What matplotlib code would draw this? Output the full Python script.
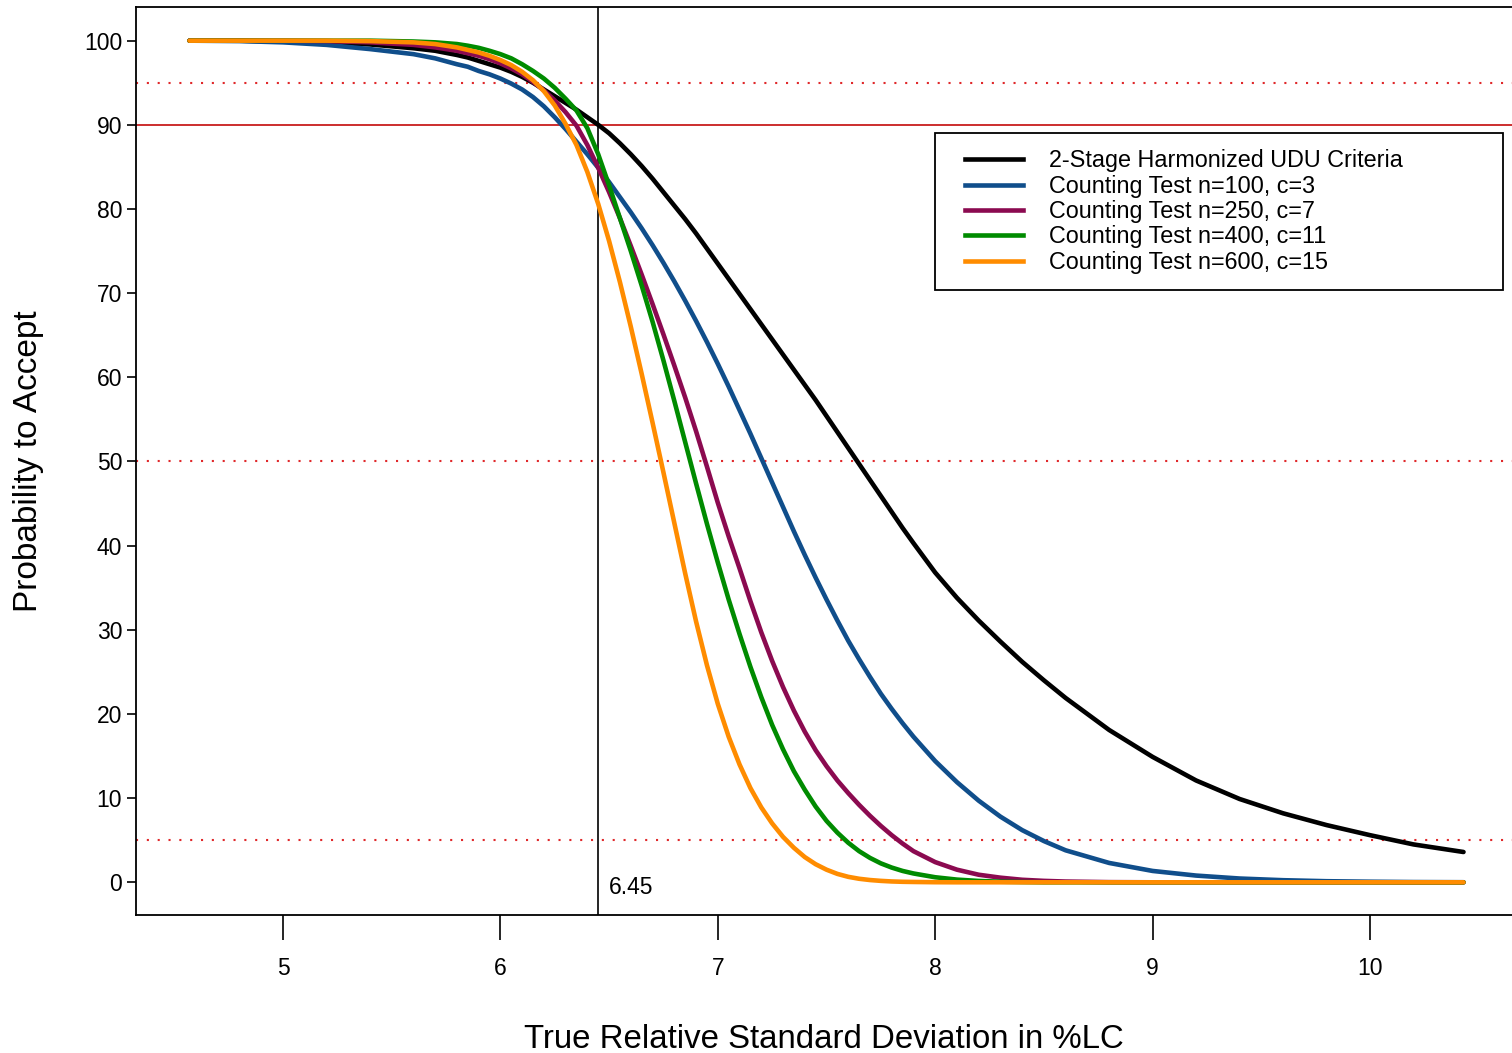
import matplotlib
matplotlib.use("Agg")
import matplotlib.pyplot as plt
from matplotlib.lines import Line2D
from matplotlib.legend_handler import HandlerBase

plt.rcParams['font.family'] = ['Liberation Sans', 'DejaVu Sans']

# ---- data ----
rsd = [4.57, 4.8, 5.0, 5.2, 5.4, 5.6, 5.7, 5.8, 5.85, 5.9, 5.95, 6.0, 6.05, 6.1, 6.15,
       6.2, 6.25, 6.3, 6.35, 6.4, 6.45, 6.5, 6.55, 6.6, 6.65, 6.7, 6.75, 6.8, 6.85,
       6.9, 6.95, 7.0, 7.05, 7.1, 7.15, 7.2, 7.25, 7.3, 7.35, 7.4, 7.45, 7.5, 7.55,
       7.6, 7.65, 7.7, 7.75, 7.8, 7.85, 7.9, 8.0, 8.1, 8.2, 8.3, 8.4, 8.5, 8.6, 8.8,
       9.0, 9.2, 9.4, 9.6, 9.8, 10.0, 10.2, 10.43]

udu_2stage = [100, 100, 99.9, 99.8, 99.55, 99.1, 98.8, 98.3, 98.0, 97.6, 97.2, 96.8,
              96.3, 95.7, 95.0, 94.2, 93.4, 92.6, 91.8, 90.9, 90.0, 89.0, 87.8, 86.5,
              85.1, 83.6, 82.0, 80.4, 78.8, 77.1, 75.3, 73.5, 71.7, 69.9, 68.1, 66.3,
              64.5, 62.7, 60.9, 59.1, 57.3, 55.4, 53.5, 51.6, 49.7, 47.8, 45.9, 44.0,
              42.1, 40.3, 36.8, 33.8, 31.1, 28.6, 26.2, 24.0, 21.9, 18.1, 14.9, 12.1,
              9.9, 8.2, 6.8, 5.6, 4.5, 3.6]
ct_100 = [100, 99.95, 99.8, 99.5, 99.0, 98.4, 97.9, 97.2, 96.9, 96.4, 96.0, 95.5,
          94.9, 94.2, 93.3, 92.2, 90.9, 89.5, 88.0, 86.5, 84.9, 83.2, 81.4, 79.6,
          77.7, 75.7, 73.6, 71.4, 69.1, 66.7, 64.2, 61.6, 58.9, 56.1, 53.3, 50.4,
          47.5, 44.6, 41.7, 38.9, 36.2, 33.6, 31.1, 28.7, 26.5, 24.4, 22.4, 20.6,
          18.9, 17.3, 14.4, 11.9, 9.7, 7.8, 6.2, 4.9, 3.8, 2.3, 1.35, 0.8, 0.45,
          0.25, 0.13, 0.07, 0.03, 0.01]
ct_250 = [100, 100, 100, 99.95, 99.8, 99.5, 99.2, 98.8, 98.5, 98.2, 97.8, 97.3,
          96.7, 96.0, 95.1, 94.1, 92.9, 91.5, 89.9, 87.6, 84.9, 82.0, 78.9, 75.6,
          72.2, 68.7, 65.1, 61.4, 57.6, 53.6, 49.4, 45.1, 41.1, 37.3, 33.4, 29.7,
          26.3, 23.2, 20.4, 17.9, 15.7, 13.8, 12.1, 10.6, 9.2, 7.9, 6.7, 5.6, 4.6,
          3.7, 2.4, 1.5, 0.9, 0.55, 0.3, 0.17, 0.09, 0.02, 0, 0, 0, 0, 0, 0, 0, 0]
ct_400 = [100, 100, 100, 100, 100, 99.9, 99.8, 99.6, 99.4, 99.15, 98.8, 98.4,
          97.9, 97.2, 96.4, 95.5, 94.4, 93.1, 91.7, 89.6, 86.5, 82.8, 78.9, 75.0,
          70.9, 66.6, 62.0, 57.2, 52.3, 47.4, 42.6, 38.0, 33.6, 29.5, 25.6, 22.0,
          18.7, 15.8, 13.2, 11.0, 9.0, 7.3, 5.9, 4.7, 3.7, 2.9, 2.25, 1.75, 1.35,
          1.05, 0.6, 0.32, 0.16, 0.07, 0.03, 0, 0, 0, 0, 0, 0, 0, 0, 0, 0, 0]
ct_600 = [100, 100, 100, 100, 99.95, 99.8, 99.6, 99.2, 98.9, 98.6, 98.2, 97.7,
          97.1, 96.3, 95.3, 94.0, 92.3, 90.1, 87.6, 84.4, 80.6, 76.2, 71.3, 66.0,
          60.4, 54.6, 48.7, 42.7, 36.7, 31.0, 25.8, 21.2, 17.3, 14.0, 11.2, 8.9,
          7.0, 5.4, 4.1, 3.0, 2.15, 1.5, 1.0, 0.65, 0.42, 0.27, 0.17, 0.1, 0.06,
          0.04, 0.01, 0, 0, 0, 0, 0, 0, 0, 0, 0, 0, 0, 0, 0, 0, 0]

series = [udu_2stage, ct_100, ct_250, ct_400, ct_600]
labels = ["2-Stage Harmonized UDU Criteria",
          "Counting Test n=100, c=3",
          "Counting Test n=250, c=7",
          "Counting Test n=400, c=11",
          "Counting Test n=600, c=15"]
colors = ["#000000", "#104E8B", "#8B0A50", "#008B00", "#FF8C00"]

ref_solid = 90
ref_dotted = [95, 50, 5]
vline_x = 6.45
xticks = [5, 6, 7, 8, 9, 10]
yticks = [0, 10, 20, 30, 40, 50, 60, 70, 80, 90, 100]

LW = 3.3

# ---- figure ----
fig = plt.figure(figsize=(15.12, 10.53), dpi=100)
W, H = 1512, 1053
ax = fig.add_axes([136 / W, (H - 915) / H, 1 - 136 / W, (915 - 7) / H])
ax.set_xlim(4.324, 10.653)
ax.set_ylim(-3.885, 104.0)

for y in ref_dotted:
    ax.axhline(y, color="#E0282A", lw=1.5, linestyle=(0, (1, 4.2)), zorder=1)
ax.axhline(ref_solid, color="#C81E1E", lw=1.3, zorder=1)
ax.axvline(vline_x, color="black", lw=1.2, zorder=1)

for ys, lab, c in zip(series, labels, colors):
    ax.plot(rsd, ys, color=c, lw=LW, label=lab, solid_capstyle="round",
            solid_joinstyle="round", zorder=3)

ax.text(vline_x + 0.05, -0.6, "6.45", fontsize=16.5, ha="left", va="center")

for s in ["left", "bottom", "top"]:
    ax.spines[s].set_linewidth(1.3)
ax.spines["right"].set_visible(False)

ax.set_xticks(xticks)
ax.set_yticks(yticks)
ax.tick_params(axis="x", length=18, width=1.2, pad=12, labelsize=16.5)
ax.tick_params(axis="y", length=6.5, width=1.2, pad=3.5, labelsize=16.5)

ax.set_xlabel("True Relative Standard Deviation in %LC", fontsize=23.8, labelpad=32)
ax.set_ylabel("Probability to Accept", fontsize=24, labelpad=29)


class OffsetLineHandler(HandlerBase):
    """Legend line drawn in the right part of the handle box."""
    def __init__(self, frac, **kw):
        super().__init__(**kw)
        self.frac = frac

    def create_artists(self, legend, orig_handle, xdescent, ydescent, width,
                       height, fontsize, trans):
        y = height / 2 - ydescent
        line = Line2D([width * self.frac - xdescent, width - xdescent], [y, y],
                      color=orig_handle.get_color(), lw=orig_handle.get_linewidth(),
                      transform=trans)
        return [line]


FS_LEG = 16.8
handles = [Line2D([], [], color=c, lw=LW) for c in colors]
leg = ax.legend(handles, labels, loc="upper left",
                bbox_to_anchor=(935 / W, (H - 133) / H - 0.01, (1503 - 935) / W, 0.01),
                bbox_transform=fig.transFigure, mode="expand",
                fontsize=FS_LEG, frameon=True, fancybox=False, edgecolor="black",
                framealpha=1.0,
                handlelength=72 / 1.389 / FS_LEG, handletextpad=1.1,
                labelspacing=0.10, borderpad=0.7, borderaxespad=0,
                handler_map={Line2D: OffsetLineHandler(14 / 72)})
leg.get_frame().set_linewidth(1.3)

fig.savefig("out.png", dpi=100)
